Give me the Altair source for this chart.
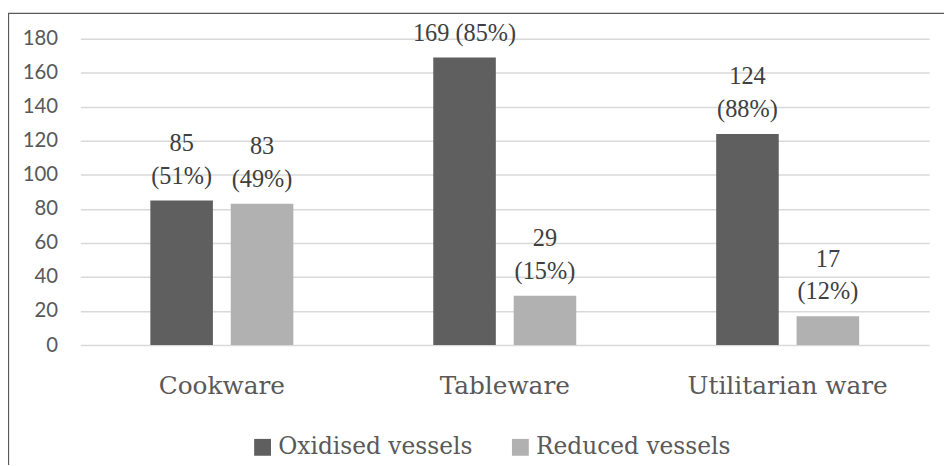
import altair as alt
import pandas as pd

categories = ["Cookware", "Tableware", "Utilitarian ware"]
series = ["Oxidised vessels", "Reduced vessels"]
oxidised = [85, 169, 124]
reduced = [83, 29, 17]
# label lines: upper line / lower line (lower line sits just above the bar)
oxidised_upper = ["85", "", "124"]
oxidised_lower = ["(51%)", "169 (85%)", "(88%)"]
reduced_upper = ["83", "29", "17"]
reduced_lower = ["(49%)", "(15%)", "(12%)"]
y_ticks = [0, 20, 40, 60, 80, 100, 120, 140, 160, 180]
colors = ["#5f5f5f", "#b1b1b1"]

rows = []
for i, c in enumerate(categories):
    rows.append(dict(category=c, series=series[0], value=oxidised[i],
                     upper=oxidised_upper[i], lower=oxidised_lower[i]))
    rows.append(dict(category=c, series=series[1], value=reduced[i],
                     upper=reduced_upper[i], lower=reduced_lower[i]))
df = pd.DataFrame(rows)

x_enc = alt.X(
    "category:N", sort=categories,
    scale=alt.Scale(paddingInner=0, paddingOuter=0),
    axis=alt.Axis(title=None, labelAngle=0, ticks=False, domain=False,
                  labelFont="DejaVu Serif", labelFontSize=25, labelColor="#595959",
                  labelPadding=49, labelBaseline="alphabetic", labelLimit=0),
)
xoff_enc = alt.XOffset("series:N", sort=series,
                       scale=alt.Scale(paddingInner=0.222, paddingOuter=0.87))
y_enc = alt.Y(
    "value:Q", scale=alt.Scale(domain=[0, 180], nice=False),
    axis=alt.Axis(values=y_ticks, title=None, ticks=False, domain=False, grid=True,
                  gridColor="#d9d9d9", gridWidth=1.5,
                  labelFont="Lato", labelFontSize=20.5, labelColor="#595959",
                  labelPadding=23),
)

base = alt.Chart(df)

bars = base.mark_bar().encode(
    x=x_enc, xOffset=xoff_enc, y=y_enc,
    color=alt.Color(
        "series:N", sort=series,
        scale=alt.Scale(domain=series, range=colors),
        legend=alt.Legend(title=None, orient="none", legendX=172, legendY=400,
                          direction="horizontal", symbolType="square", symbolSize=289,
                          symbolStrokeWidth=0, labelFont="DejaVu Serif", labelFontSize=23.5,
                          labelColor="#595959", labelOffset=4, columnPadding=36, padding=0,
                          labelLimit=0),
    ),
)

text_style = dict(baseline="bottom", font="Liberation Serif", fontSize=24.5, color="#404040")

lower_text = base.mark_text(dy=-12, **text_style).encode(
    x=x_enc, xOffset=xoff_enc, y=y_enc, text="lower:N")
upper_text = base.mark_text(dy=-45, **text_style).encode(
    x=x_enc, xOffset=xoff_enc, y=y_enc, text="upper:N")

frame = alt.Chart(alt.Data(values=[{"a": 1}])).mark_rect(
    fillOpacity=0, stroke="#595959", strokeWidth=1.3
).encode(x=alt.value(-72.5), x2=alt.value(1000), y=alt.value(-25.5), y2=alt.value(700))

chart = alt.layer(frame, bars, lower_text, upper_text).properties(
    width=856, height=309,
    autosize=alt.AutoSizeParams(type="none"),
    padding={"left": 73, "top": 29, "right": 15, "bottom": 119},
).configure_view(stroke=None)

chart.save("out.html", embed_options={"renderer": "svg", "actions": False})
